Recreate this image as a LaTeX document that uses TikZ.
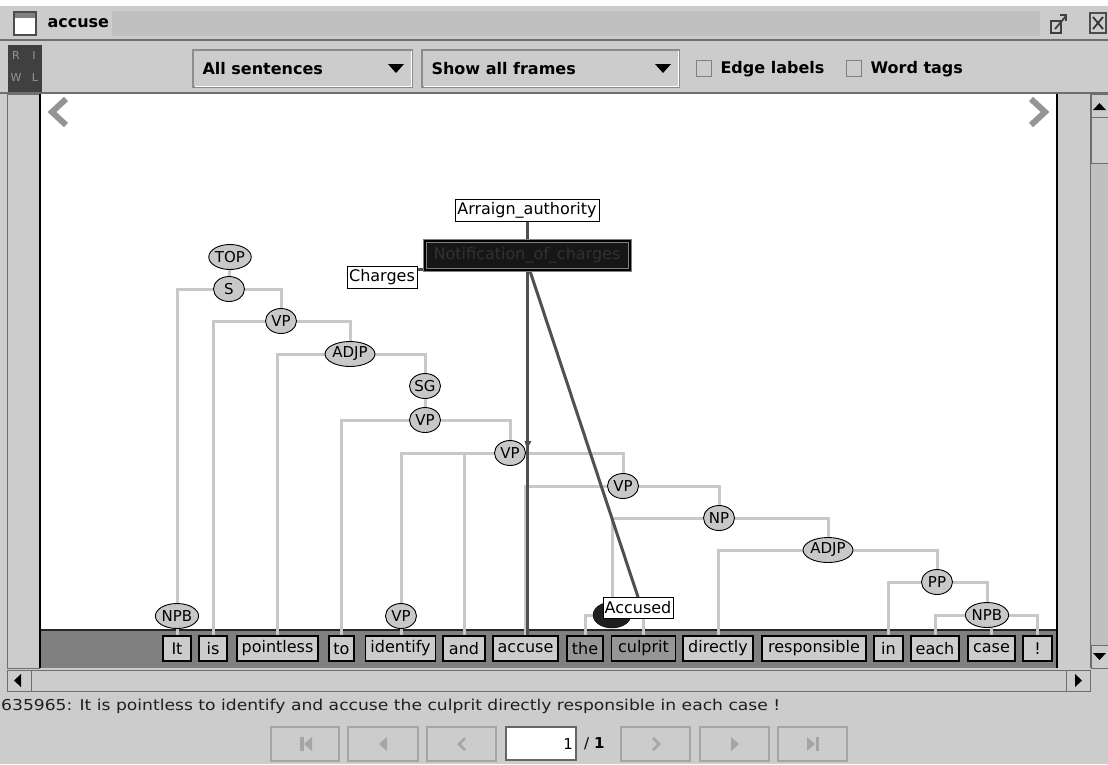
\documentclass[tikz,border=0pt]{standalone}
\usepackage{fontspec}
\usepackage{graphicx}
\setmainfont{DejaVu Sans}
\usetikzlibrary{shapes.geometric}
\pgfdeclarelayer{bg}
\pgfdeclarelayer{tree}
\pgfdeclarelayer{frame}
\pgfsetlayers{bg,tree,frame,main}

\definecolor{panel}{RGB}{204,204,204}
\definecolor{strip}{RGB}{128,128,128}
\definecolor{treegray}{RGB}{200,200,200}
\definecolor{framegray}{RGB}{80,80,80}
\definecolor{glyph}{RGB}{165,165,165}
\definecolor{edgegray}{RGB}{110,110,110}
\definecolor{dotfill}{RGB}{192,192,192}
\definecolor{wordsel}{RGB}{150,150,150}
\definecolor{nocfill}{RGB}{22,22,22}
\definecolor{noctext}{RGB}{50,50,50}
\definecolor{riwl}{RGB}{64,64,64}
\definecolor{riwlletter}{RGB}{150,150,150}

\newcommand{\pxsize}[1]{\fontsize{#1}{#1}\selectfont}

\tikzset{
  tnode/.style={ellipse, draw=black, line width=0.9pt, fill=treegray, inner sep=0pt,
    minimum width=31, minimum height=25, font=\pxsize{15}},
  wordbox/.style={draw=black, line width=1.3pt, fill=panel, inner sep=0pt,
    minimum height=25, font=\pxsize{16}},
  selword/.style={wordbox, fill=wordsel},
  tedge/.style={draw=treegray, line width=3pt},
  fedge/.style={draw=framegray, line width=3pt},
  fbox/.style={draw=black, line width=1pt, fill=white, inner sep=1.5pt,
    minimum height=22, font=\pxsize{16}},
  uibtn/.style={draw=glyph, line width=1.2pt},
  tbtext/.style={font=\bfseries\pxsize{16}, anchor=west},
  riwltext/.style={font=\pxsize{11}, text=riwlletter, inner sep=0pt},
}

\begin{document}
\begin{tikzpicture}[x=1pt,y=-1pt]
\useasboundingbox (0,0) rectangle (1108,764);

% ---------- window chrome ----------
\begin{pgfonlayer}{bg}
\fill[white] (0,0) rectangle (1108,6);
\fill[panel] (0,6) rectangle (1108,764);
% title bar
\fill[dotfill] (112,11) rectangle (1040,36);
\draw[edgegray, line width=2pt] (0,40) -- (1108,40);
\draw[black!70, line width=1.5pt, fill=white] (14,12) rectangle (36,35);
\fill[black!50] (15,13) rectangle (35,18);
% maximize and close icons
\draw[black!75, line width=2pt] (1051,21) rectangle (1061,33);
\draw[black!75, line width=1.8pt] (1055,29) -- (1066,16);
\draw[black!75, line width=1.8pt] (1060,15) -- (1066,15) -- (1066,21);
\draw[black!70, line width=1.5pt] (1090,13) rectangle (1106,33);
\draw[black!80, line width=1.8pt] (1093,17) -- (1103,29) (1103,17) -- (1093,29);
% toolbar
\fill[riwl] (8,45) rectangle (42,92);
\draw[black!45, line width=1.2pt] (193,50) rectangle (412,87);
\draw[white, line width=1pt] (195,86) -- (411,86) -- (411,51);
\fill[black] (388,64) -- (404,64) -- (396,73) -- cycle;
\draw[black!45, line width=1.2pt] (422,50) rectangle (679,87);
\draw[white, line width=1pt] (424,86) -- (678,86) -- (678,51);
\fill[black] (655,64) -- (671,64) -- (663,73) -- cycle;
\draw[black!50, line width=1pt] (696,60) rectangle (711,76);
\draw[black!50, line width=1pt] (846,60) rectangle (861,76);
\draw[edgegray, line width=1.5pt] (0,93) -- (1108,93);
% canvas, side strips and word strip
\fill[white] (40,94) rectangle (1057,630);
\fill[strip] (40,630) rectangle (1057,668);
\draw[black!85, line width=1.2pt] (40,630) -- (1057,630);
\draw[edgegray, line width=1pt] (7,94) rectangle (39,668);
\draw[black, line width=1.5pt] (40,94) -- (40,668);
\draw[black, line width=1.5pt] (1057,94) -- (1057,668);
\draw[edgegray, line width=1pt] (1090,94) -- (1090,668);
% page arrows on the canvas
\draw[black!42, line width=6pt] (66,99) -- (52,112) -- (66,125);
\draw[black!42, line width=6pt] (1031,99) -- (1045,112) -- (1031,125);
% vertical scrollbar
\fill[dotfill] (1091,163) rectangle (1108,645);
\draw[edgegray, line width=1pt] (1091,94) rectangle (1108,117);
\fill[black] (1093,110) -- (1106,110) -- (1099.5,103) -- cycle;
\draw[edgegray, line width=1pt, fill=panel] (1091,117) rectangle (1108,163);
\draw[edgegray, line width=1pt, fill=panel] (1091,645) rectangle (1108,668);
\fill[black] (1093,653) -- (1106,653) -- (1099.5,660) -- cycle;
% horizontal scrollbar
\draw[edgegray, line width=1pt] (7,670) rectangle (1090,691);
\draw[edgegray, line width=1pt] (7,670) rectangle (31,691);
\fill[black] (21,674) -- (21,687) -- (14,680.5) -- cycle;
\draw[edgegray, line width=1pt] (1066,670) rectangle (1090,691);
\fill[black] (1075,674) -- (1075,687) -- (1082,680.5) -- cycle;
% navigation buttons
\draw[uibtn] (271,727) rectangle (339,761);
\draw[uibtn] (348,727) rectangle (418,761);
\draw[uibtn] (427,727) rectangle (496,761);
\draw[uibtn] (621,727) rectangle (690,761);
\draw[uibtn] (700,727) rectangle (769,761);
\draw[uibtn] (778,727) rectangle (847,761);
\fill[glyph] (300,737) rectangle (303.5,751);
\fill[glyph] (312,737) -- (304,744) -- (312,751) -- cycle;
\fill[glyph] (387,737) -- (379,744) -- (387,751) -- cycle;
\draw[glyph, line width=2.5pt] (465,738) -- (459,744) -- (465,750);
\draw[glyph, line width=2.5pt] (653,738) -- (659,744) -- (653,750);
\fill[glyph] (731,737) -- (739,744) -- (731,751) -- cycle;
\fill[glyph] (807,737) -- (815,744) -- (807,751) -- cycle;
\fill[glyph] (815.5,737) rectangle (819,751);
\draw[black!60, line width=1.2pt, fill=white] (506,727) rectangle (576,760);
\end{pgfonlayer}

% ---------- toolbar and status texts ----------
\node[riwltext] (rr) at (16,55) {R};
\node[riwltext] (ri) at (34,55) {I};
\node[riwltext] (rw) at (16,77) {W};
\node[riwltext] (rl) at (35,77) {L};
\node[font=\bfseries\pxsize{16}, anchor=west] (ttl) at (44,23) {accuse};
\node[tbtext] (dd1) at (199,69) {All sentences};
\node[tbtext] (dd2) at (428,69) {Show all frames};
\node[tbtext] (cb1) at (717,69) {Edge labels};
\node[tbtext] (cb2) at (867,69) {Word tags};
\node[anchor=west, inner sep=0pt, text=black!88] (status) at (1,706)
  {\resizebox{779pt}{\height}{\pxsize{15}635965: It is pointless to identify and accuse the culprit directly responsible in each case !}};
\node[anchor=east, font=\pxsize{15}, inner sep=0pt] (pg) at (573,744) {1};
\node[anchor=west, font=\pxsize{15}, inner sep=0pt] (pgt) at (584,744) {/ \textbf{1}};

% ---------- words ----------
\node[wordbox, minimum width=28] (w1) at (177,648.5) {It};
\node[wordbox, minimum width=28] (w2) at (213,648.5) {is};
\node[wordbox, minimum width=81] (w3) at (277.5,648.5) {pointless};
\node[wordbox, minimum width=25] (w4) at (341.5,648.5) {to};
\node[wordbox, minimum width=70] (w5) at (400.5,648.5) {identify};
\node[wordbox, minimum width=42] (w6) at (464,648.5) {and};
\node[wordbox, minimum width=65] (w7) at (525.5,648.5) {accuse};
\node[selword, minimum width=36] (w8) at (585,648.5) {the};
\node[selword, minimum width=64] (w9) at (643.5,648.5) {culprit};
\node[wordbox, minimum width=70] (w10) at (718,648.5) {directly};
\node[wordbox, minimum width=104] (w11) at (814,648.5) {responsible};
\node[wordbox, minimum width=29] (w12) at (888.5,648.5) {in};
\node[wordbox, minimum width=48] (w13) at (935,648.5) {each};
\node[wordbox, minimum width=47] (w14) at (991.5,648.5) {case};
\node[wordbox, minimum width=29] (w15) at (1037.5,648.5) {!};

% ---------- syntax tree ----------
\node[tnode] (top) at (230,257) {TOP};
\node[tnode] (s) at (229,289) {S};
\node[tnode] (vpa) at (281,321) {VP};
\node[tnode] (adjpa) at (350,354) {ADJP};
\node[tnode] (sg) at (425,386) {SG};
\node[tnode] (vpb) at (425,420) {VP};
\node[tnode] (vpc) at (510,453) {VP};
\node[tnode] (vpd) at (623,486) {VP};
\node[tnode] (np) at (719,518) {NP};
\node[tnode] (adjpb) at (828,550) {ADJP};
\node[tnode] (pp) at (937,582) {PP};
\node[tnode] (npba) at (177,616) {NPB};
\node[tnode] (vpe) at (401,616) {VP};
\node[tnode] (npbb) at (987,615) {NPB};
\node[ellipse, draw=black, fill=black!88, inner sep=0pt, minimum width=38, minimum height=26] (npx) at (612,615) {};

\begin{pgfonlayer}{tree}
\draw[tedge] (top) -- (s);
\draw[tedge] (s) -| (npba);
\draw[tedge] (s) -| (vpa);
\draw[tedge] (npba) -- (npba |- w1.north);
\draw[tedge] (vpa) -| (w2);
\draw[tedge] (vpa) -| (adjpa);
\draw[tedge] (adjpa) -| (w3);
\draw[tedge] (adjpa) -| (sg);
\draw[tedge] (sg) -- (vpb);
\draw[tedge] (vpb) -| (w4);
\draw[tedge] (vpb) -| (vpc);
\draw[tedge] (vpc) -| (vpe);
\draw[tedge] (vpe) -- (vpe |- w5.north);
\draw[tedge] (vpc) -| (w6);
\draw[tedge] (vpc) -| (vpd);
\draw[tedge] (vpd) -| (w7);
\draw[tedge] (vpd) -| (np);
\draw[tedge] (np) -| (npx);
\draw[tedge] (np) -| (adjpb);
\draw[tedge] (npx) -| (w8);
\draw[tedge] (npx) -| (w9);
\draw[tedge] (adjpb) -| (w10);
\draw[tedge] (adjpb) -| (pp);
\draw[tedge] (pp) -| (w12);
\draw[tedge] (pp) -| (npbb);
\draw[tedge] (npbb) -| (w13);
\draw[tedge] (npbb) -| (w14);
\draw[tedge] (npbb) -| (w15);
\end{pgfonlayer}

% ---------- frame annotation ----------
\node[fbox, minimum width=144] (arr) at (527,210.5) {Arraign\_authority};
\node[draw=black!50, line width=1pt, double=black, double distance=2pt, fill=nocfill,
  text=noctext, inner sep=0pt, minimum width=205, minimum height=29, font=\pxsize{16}]
  (noc) at (527,255) {Notification\_of\_charges};
\node[fbox, minimum width=70] (chg) at (382,277) {Charges};
\node[fbox, minimum width=70, minimum height=21] (acc) at (638,608) {Accused};
\coordinate (chgend) at (442,269);
\coordinate (diagstart) at (530,271);

\begin{pgfonlayer}{frame}
\draw[fedge] (arr) -- (noc);
\draw[fedge] (chg.east |- chgend) -- (chgend);
\draw[fedge] (noc.south) -- (noc.south |- w7.north);
\draw[fedge] (diagstart) -- (acc.north);
\fill[framegray] (524.5,441) -- (531.5,441) -- (527,449) -- cycle;
\end{pgfonlayer}
\end{tikzpicture}
\end{document}
